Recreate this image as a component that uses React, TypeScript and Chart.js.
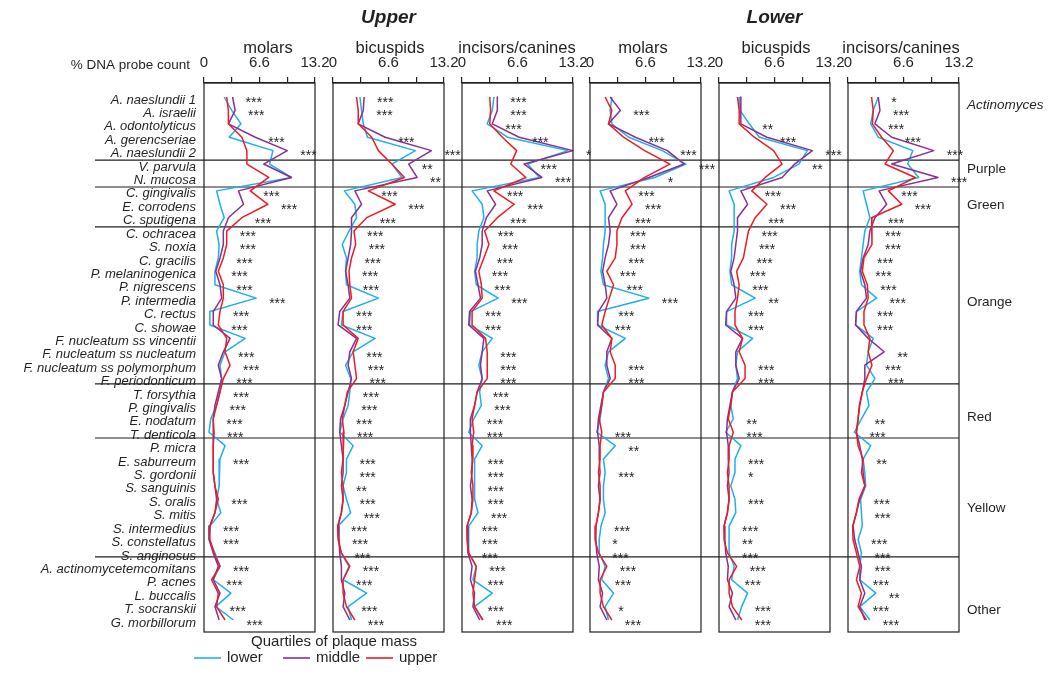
import { useEffect, useRef } from 'react';
import { Chart, registerables } from 'chart.js';
Chart.register(...registerables);

// ---------------- data ----------------
const SPECIES = [
  'A. naeslundii 1', 'A. israelii', 'A. odontolyticus', 'A. gerencseriae', 'A. naeslundii 2',
  'V. parvula', 'N. mucosa',
  'C. gingivalis', 'E. corrodens', 'C. sputigena',
  'C. ochracea', 'S. noxia', 'C. gracilis', 'P. melaninogenica', 'P. nigrescens', 'P. intermedia',
  'C. rectus', 'C. showae', 'F. nucleatum ss vincentii', 'F. nucleatum ss nucleatum',
  'F. nucleatum ss polymorphum', 'F. periodonticum',
  'T. forsythia', 'P. gingivalis', 'E. nodatum', 'T. denticola',
  'P. micra', 'E. saburreum', 'S. gordonii', 'S. sanguinis', 'S. oralis', 'S. mitis',
  'S. intermedius', 'S. constellatus', 'S. anginosus',
  'A. actinomycetemcomitans', 'P. acnes', 'L. buccalis', 'T. socranskii', 'G. morbillorum',
];
const GROUP_NAMES = ['Actinomyces', 'Purple', 'Green', 'Orange', 'Red', 'Yellow', 'Other'];
const GROUP_BREAKS = [4.7, 6.71, 9.69, 21.4, 25.43, 34.3];
const GROUP_LABEL_ROWS = [0.6, 5.4, 8.05, 15.3, 23.9, 30.7, 38.3];
const SITES = ['Upper', 'Lower'];
const PANEL_TITLES = ['molars', 'bicuspids', 'incisors/canines', 'molars', 'bicuspids', 'incisors/canines'];
const QUARTILES = ['lower', 'middle', 'upper'];
const LEGEND_TITLE = 'Quartiles of plaque mass';
const AXIS_TITLE = '% DNA probe count';
const TICK_VALUES = [0, 3.3, 6.6, 9.9, 13.2];
const TICK_LABELS = ['0', '', '6.6', '', '13.2'];

// Upper molars
const UM_LOWER = [2.4, 3.3, 4.4, 3.0, 8.2, 7.8, 10.4, 1.5, 1.9, 2.4, 1.5, 1.8, 1.7, 1.3, 1.3, 6.2, 0.7, 0.7, 4.9, 2.5, 1.9, 2.1, 1.9, 1.5, 0.8, 0.6, 2.5, 1.9, 1.8, 1.8, 1.5, 2.0, 0.7, 0.6, 1.3, 1.9, 1.1, 3.2, 1.4, 3.5];
const UM_MIDDLE = [3.4, 3.7, 2.9, 6.1, 9.9, 7.1, 10.4, 4.1, 4.7, 2.9, 2.3, 2.3, 1.9, 1.4, 1.9, 2.1, 1.1, 1.1, 3.1, 2.3, 1.7, 2.1, 1.7, 1.3, 1.1, 1.1, 1.1, 1.1, 1.1, 1.3, 1.5, 1.3, 0.7, 0.6, 1.1, 1.7, 1.1, 1.9, 1.3, 1.8];
const UM_UPPER = [2.7, 2.9, 2.9, 4.5, 5.1, 5.1, 7.7, 5.5, 7.6, 4.5, 2.7, 2.7, 2.3, 1.7, 2.3, 2.3, 1.9, 1.7, 2.7, 2.5, 3.1, 2.3, 1.9, 1.5, 1.1, 1.2, 1.1, 1.1, 1.1, 1.3, 1.7, 1.3, 0.7, 0.7, 1.2, 1.9, 0.9, 1.7, 1.5, 2.5];
const UM_SIG = ['***', '***', '', '***', '***', '', '', '***', '***', '***', '***', '***', '***', '***', '***', '***', '***', '***', '', '***', '***', '***', '***', '***', '***', '***', '', '***', '', '', '***', '', '***', '***', '', '***', '***', '', '***', '***'];

// Upper bicuspids
const UB_LOWER = [3.2, 3.4, 3.6, 4.1, 9.8, 7.0, 8.2, 1.35, 2.6, 2.8, 1.9, 1.1, 1.6, 1.5, 1.6, 5.4, 1.2, 1.0, 5.0, 2.4, 1.5, 2.1, 2.0, 1.8, 1.2, 0.8, 2.4, 1.6, 1.6, 1.2, 1.6, 2.1, 0.6, 0.7, 0.95, 1.9, 1.2, 4.0, 1.8, 2.2];
const UB_MIDDLE = [3.7, 3.6, 3.0, 6.2, 11.7, 9.0, 10.0, 2.6, 3.4, 2.2, 2.2, 2.1, 1.8, 1.5, 1.8, 2.0, 0.8, 0.6, 2.8, 2.0, 1.8, 2.2, 1.8, 1.4, 0.9, 0.8, 1.0, 1.2, 1.2, 1.0, 1.2, 1.0, 0.6, 0.7, 0.8, 1.0, 1.0, 1.4, 1.2, 2.0];
const UB_UPPER = [2.8, 3.0, 3.0, 4.6, 5.4, 7.0, 8.5, 4.2, 7.4, 4.0, 2.5, 2.7, 2.2, 1.9, 2.0, 2.2, 1.2, 1.2, 3.0, 2.4, 2.6, 2.8, 1.7, 1.4, 1.1, 1.3, 1.2, 1.2, 1.0, 1.2, 1.2, 1.0, 0.55, 0.6, 1.0, 2.0, 1.2, 1.2, 1.6, 2.6];
const UB_SIG = ['***', '***', '', '***', '***', '**', '**', '***', '***', '***', '***', '***', '***', '***', '***', '', '***', '***', '', '***', '***', '***', '***', '***', '***', '***', '', '***', '***', '**', '***', '***', '***', '***', '***', '***', '***', '', '***', '***'];

// Upper incisors/canines
const UI_LOWER = [3.8, 3.6, 3.0, 5.4, 12.6, 7.8, 9.2, 1.2, 2.4, 2.6, 2.0, 1.8, 1.8, 1.5, 1.7, 4.3, 1.0, 0.9, 3.6, 2.4, 2.0, 2.4, 2.1, 2.3, 1.4, 0.8, 2.4, 1.5, 1.5, 1.5, 1.5, 1.9, 0.8, 0.8, 0.8, 1.7, 1.3, 3.6, 1.5, 2.4];
const UI_MIDDLE = [4.2, 4.2, 3.6, 6.8, 13.2, 7.4, 9.5, 3.0, 4.0, 2.9, 2.4, 2.4, 2.1, 1.6, 1.9, 2.2, 0.9, 0.8, 2.6, 2.4, 2.2, 2.4, 1.8, 1.5, 1.0, 1.0, 1.1, 1.2, 1.2, 1.0, 1.2, 1.1, 0.6, 0.7, 0.7, 1.2, 1.0, 1.5, 1.3, 2.1];
const UI_UPPER = [3.3, 3.4, 3.3, 4.8, 6.5, 5.8, 7.6, 3.8, 6.2, 4.2, 2.7, 3.2, 2.6, 2.0, 2.3, 2.4, 1.2, 1.2, 2.8, 3.0, 3.0, 3.0, 1.8, 1.5, 1.2, 1.4, 1.2, 1.3, 1.1, 1.3, 1.3, 1.1, 0.6, 0.6, 0.8, 1.7, 1.5, 1.3, 1.5, 2.5];
const UI_SIG = ['***', '***', '***', '***', '*', '***', '***', '***', '***', '***', '***', '***', '***', '***', '***', '***', '***', '***', '', '***', '***', '***', '***', '***', '***', '***', '', '***', '***', '***', '***', '***', '***', '***', '***', '***', '***', '', '***', '***'];

// Lower molars
const LM_LOWER = [2.6, 2.4, 2.6, 4.6, 8.6, 11.4, 7.7, 1.2, 1.8, 1.8, 1.8, 1.6, 1.5, 1.3, 1.6, 7.0, 0.9, 0.9, 4.2, 2.2, 1.8, 2.2, 1.6, 1.4, 1.2, 0.8, 3.0, 1.6, 1.8, 1.6, 1.6, 1.8, 1.3, 1.1, 1.1, 1.8, 1.4, 2.8, 1.8, 2.2];
const LM_MIDDLE = [2.4, 3.6, 2.2, 5.4, 9.2, 11.2, 7.0, 2.4, 3.2, 2.2, 2.4, 2.2, 1.8, 1.5, 1.8, 2.0, 1.0, 0.9, 2.6, 2.0, 2.0, 2.4, 1.6, 1.3, 1.0, 0.9, 1.1, 1.1, 1.2, 1.0, 1.2, 1.0, 0.7, 0.7, 0.8, 1.1, 1.0, 1.5, 1.2, 2.0];
const LM_UPPER = [1.8, 2.6, 2.2, 4.0, 6.5, 9.5, 6.5, 4.2, 5.0, 3.8, 3.2, 3.2, 3.0, 2.0, 2.8, 2.3, 1.8, 1.4, 2.6, 2.4, 3.0, 3.0, 1.6, 1.4, 1.1, 1.4, 1.2, 1.2, 1.0, 1.2, 1.2, 1.0, 0.7, 0.6, 1.0, 2.0, 1.2, 1.2, 1.6, 2.6];
const LM_SIG = ['', '***', '', '***', '***', '***', '*', '***', '***', '***', '***', '***', '***', '***', '***', '***', '***', '***', '', '', '***', '***', '', '', '', '***', '**', '', '***', '', '', '', '***', '*', '***', '***', '***', '', '*', '***'];

// Lower bicuspids
const LB_LOWER = [2.4, 2.5, 3.6, 4.8, 10.5, 9.5, 6.5, 1.2, 1.8, 1.8, 1.8, 1.5, 1.5, 1.3, 1.5, 4.3, 0.9, 0.9, 4.0, 2.2, 2.0, 2.2, 1.6, 1.4, 1.7, 0.8, 2.6, 1.9, 1.9, 1.4, 1.9, 2.0, 1.2, 1.2, 1.2, 1.8, 1.5, 3.4, 2.7, 2.2];
const LB_MIDDLE = [2.6, 2.6, 2.6, 5.7, 11.1, 9.0, 7.5, 2.6, 3.4, 2.2, 2.2, 2.0, 1.8, 1.4, 1.8, 2.0, 0.9, 0.8, 2.8, 2.0, 2.0, 2.4, 1.6, 1.3, 1.0, 0.9, 1.1, 1.1, 1.2, 1.0, 1.2, 1.0, 0.6, 0.7, 0.8, 1.1, 1.0, 1.6, 1.2, 2.0];
const LB_UPPER = [2.2, 2.4, 2.4, 4.2, 6.5, 7.5, 5.5, 3.9, 5.7, 4.3, 3.5, 3.2, 2.9, 2.1, 2.4, 2.2, 1.9, 1.9, 2.8, 2.4, 3.1, 3.1, 1.6, 1.4, 1.1, 1.7, 1.2, 1.2, 1.0, 1.2, 1.2, 1.0, 0.6, 0.6, 1.0, 2.1, 1.2, 1.2, 1.6, 2.7];
const LB_SIG = ['', '', '**', '***', '***', '**', '', '***', '***', '***', '***', '***', '***', '***', '***', '**', '***', '***', '', '', '***', '***', '', '', '**', '***', '', '***', '*', '', '***', '', '***', '**', '***', '***', '***', '', '***', '***'];

// Lower incisors/canines
const LI_LOWER = [3.6, 3.0, 2.7, 3.6, 7.7, 7.1, 8.4, 1.8, 2.2, 2.6, 2.0, 1.8, 1.6, 1.4, 1.6, 3.4, 1.0, 0.9, 3.0, 2.4, 2.2, 3.2, 2.2, 2.5, 1.6, 0.75, 2.7, 1.8, 2.0, 2.1, 1.5, 1.6, 1.7, 1.2, 1.6, 1.4, 1.4, 3.3, 1.4, 2.6];
const LI_MIDDLE = [3.6, 3.8, 3.2, 5.2, 10.2, 5.2, 10.7, 3.7, 4.6, 3.2, 2.6, 2.4, 1.8, 1.5, 2.0, 2.2, 1.0, 0.9, 2.4, 4.3, 2.0, 2.0, 1.7, 1.35, 1.2, 1.0, 1.4, 1.7, 1.8, 2.0, 1.4, 1.0, 0.6, 0.8, 1.2, 1.6, 1.4, 2.0, 1.4, 2.0];
const LI_UPPER = [2.8, 3.0, 2.9, 4.0, 5.4, 4.4, 8.0, 4.8, 6.4, 2.8, 2.85, 2.85, 1.9, 1.7, 2.3, 2.4, 1.9, 1.9, 2.6, 2.4, 2.85, 2.2, 1.7, 1.4, 1.2, 1.0, 1.2, 1.8, 1.6, 2.0, 1.3, 1.0, 0.55, 0.6, 1.0, 1.4, 1.0, 1.6, 1.2, 2.2];
const LI_SIG = ['*', '***', '***', '***', '***', '', '***', '***', '***', '***', '***', '***', '***', '***', '***', '***', '***', '***', '', '**', '***', '***', '', '', '**', '***', '', '**', '', '', '***', '***', '', '***', '***', '***', '***', '**', '***', '***'];

// ---------------- layout / style ----------------
const W = 1050;
const H = 677;
const PANEL_LEFTS = [204, 333, 462, 590, 719, 848];
const PANEL_W = 111;
const PLOT_TOP = 83;
const PLOT_BOTTOM = 632;
const ROW0_PX = 97;
const ROW_STEP = 13.41;
const Y_MIN = -(ROW0_PX - PLOT_TOP) / ROW_STEP;
const Y_MAX = (PLOT_BOTTOM - ROW0_PX) / ROW_STEP;
const SUBTITLE_X = [268, 390, 517, 643, 776, 901];
const SEP_X0 = 95;
const SEP_X1 = 959;
const FONT = '"Liberation Sans", Arial, Helvetica, sans-serif';
const COLORS = ['#1cb0ec', '#8c2d92', '#ed1c24'];
const INK = '#231f20';

const PANELS = [
  { series: [UM_LOWER, UM_MIDDLE, UM_UPPER], sig: UM_SIG },
  { series: [UB_LOWER, UB_MIDDLE, UB_UPPER], sig: UB_SIG },
  { series: [UI_LOWER, UI_MIDDLE, UI_UPPER], sig: UI_SIG },
  { series: [LM_LOWER, LM_MIDDLE, LM_UPPER], sig: LM_SIG },
  { series: [LB_LOWER, LB_MIDDLE, LB_UPPER], sig: LB_SIG },
  { series: [LI_LOWER, LI_MIDDLE, LI_UPPER], sig: LI_SIG },
];

function decorPlugin(p: number) {
  const panel = PANELS[p];
  return {
    id: 'decor' + p,
    beforeDatasetsDraw(chart: any) {
      if (p !== 0) return;
      const { ctx } = chart;
      const y = chart.scales.y;
      ctx.save();
      ctx.strokeStyle = INK;
      ctx.lineWidth = 1.2;
      GROUP_BREAKS.forEach((b) => {
        const py = y.getPixelForValue(b);
        ctx.beginPath();
        ctx.moveTo(SEP_X0, py);
        ctx.lineTo(SEP_X1, py);
        ctx.stroke();
      });
      ctx.restore();
    },
    afterDraw(chart: any) {
      const { ctx, chartArea } = chart;
      const x = chart.scales.x;
      const y = chart.scales.y;
      ctx.save();
      ctx.strokeStyle = INK;
      ctx.lineWidth = 1.2;
      ctx.strokeRect(chartArea.left, chartArea.top, chartArea.right - chartArea.left, chartArea.bottom - chartArea.top);

      ctx.fillStyle = INK;
      ctx.font = `16.5px ${FONT}`;
      ctx.textAlign = 'center';
      ctx.textBaseline = 'alphabetic';
      ctx.fillText(PANEL_TITLES[p], SUBTITLE_X[p], 53);

      ctx.font = `14px ${FONT}`;
      ctx.textAlign = 'left';
      ctx.textBaseline = 'middle';
      panel.sig.forEach((s, i) => {
        if (!s) return;
        const m = Math.max(...panel.series.map((a) => a[i]));
        ctx.fillText(s, x.getPixelForValue(m) + 13, y.getPixelForValue(i) + 6);
      });

      if (p === 0) {
        ctx.font = `italic bold 19px ${FONT}`;
        ctx.textAlign = 'center';
        ctx.textBaseline = 'middle';
        ctx.fillText(SITES[0], PANEL_LEFTS[1] + PANEL_W / 2, 18);
        ctx.fillText(SITES[1], PANEL_LEFTS[4] + PANEL_W / 2, 18);
        ctx.font = `13.5px ${FONT}`;
        ctx.textAlign = 'right';
        ctx.textBaseline = 'alphabetic';
        ctx.fillText(AXIS_TITLE, 190, 68.5);
        ctx.textAlign = 'left';
        ctx.textBaseline = 'middle';
        GROUP_NAMES.forEach((g, k) => {
          ctx.font = (k === 0 ? 'italic ' : '') + `13.5px ${FONT}`;
          ctx.fillText(g, 967, y.getPixelForValue(GROUP_LABEL_ROWS[k]));
        });
        ctx.font = `15px ${FONT}`;
        ctx.textAlign = 'center';
        ctx.fillText(LEGEND_TITLE, 334, 642);
        const starts = [194, 283, 366];
        chart.data.datasets.forEach((ds: any, k: number) => {
          ctx.strokeStyle = ds.borderColor;
          ctx.lineWidth = 1.6;
          ctx.beginPath();
          ctx.moveTo(starts[k], 658);
          ctx.lineTo(starts[k] + 27, 658);
          ctx.stroke();
          ctx.textAlign = 'left';
          ctx.fillStyle = INK;
          ctx.fillText(ds.label, starts[k] + 33, 658);
        });
      }
      ctx.restore();
    },
  };
}

function makeConfig(p: number): any {
  const panel = PANELS[p];
  const left = PANEL_LEFTS[p];
  return {
    type: 'line',
    data: {
      datasets: panel.series.map((vals, k) => ({
        label: QUARTILES[k],
        data: vals.map((v, i) => ({ x: v, y: i })),
        borderColor: COLORS[k],
        backgroundColor: COLORS[k],
        borderWidth: 1.5,
        borderJoinStyle: 'round',
        pointRadius: 0,
        tension: 0,
        fill: false,
        order: 2 - k,
        clip: false,
      })),
    },
    options: {
      responsive: false,
      animation: false,
      devicePixelRatio: 1,
      events: [],
      layout: {
        padding: { left: 0, right: W - left - PANEL_W, top: 0, bottom: H - PLOT_BOTTOM },
      },
      plugins: { legend: { display: false }, tooltip: { enabled: false }, title: { display: false } },
      scales: {
        x: {
          type: 'linear',
          position: 'top',
          min: 0,
          max: 13.2,
          afterFit: (s: any) => { s.height = PLOT_TOP; },
          afterBuildTicks: (s: any) => { s.ticks = TICK_VALUES.map((v) => ({ value: v })); },
          ticks: {
            callback: (_v: any, i: number) => TICK_LABELS[i],
            font: { family: FONT, size: 15 },
            color: INK,
            padding: 5,
            maxRotation: 0,
            autoSkip: false,
          },
          grid: { drawOnChartArea: false, drawTicks: true, tickLength: 6, color: INK, lineWidth: 1.2 },
          border: { display: true, color: INK, width: 1.2 },
        },
        y: {
          type: 'linear',
          reverse: true,
          min: Y_MIN,
          max: Y_MAX,
          afterFit: (s: any) => { s.width = left; },
          afterBuildTicks: (s: any) => { s.ticks = SPECIES.map((_, i) => ({ value: i })); },
          ticks: {
            display: p === 0,
            callback: (v: any) => SPECIES[v] ?? '',
            font: { family: FONT, size: 13, style: 'italic' },
            color: INK,
            padding: 8,
            labelOffset: 3,
            autoSkip: false,
          },
          grid: { display: false, drawTicks: false },
          border: { display: false },
        },
      },
    },
    plugins: [decorPlugin(p)],
  };
}

export default function App() {
  const refs = useRef<(HTMLCanvasElement | null)[]>([]);
  useEffect(() => {
    const charts = PANELS.map((_, p) => new Chart(refs.current[p] as HTMLCanvasElement, makeConfig(p)));
    return () => charts.forEach((c) => c.destroy());
  }, []);
  return (
    <div style={{ position: 'absolute', left: 0, top: 0, width: W, height: H, background: '#fff' }}>
      {PANELS.map((_, p) => (
        <canvas
          key={p}
          ref={(el) => { refs.current[p] = el; }}
          width={W}
          height={H}
          style={{ position: 'absolute', left: 0, top: 0 }}
        />
      ))}
    </div>
  );
}
